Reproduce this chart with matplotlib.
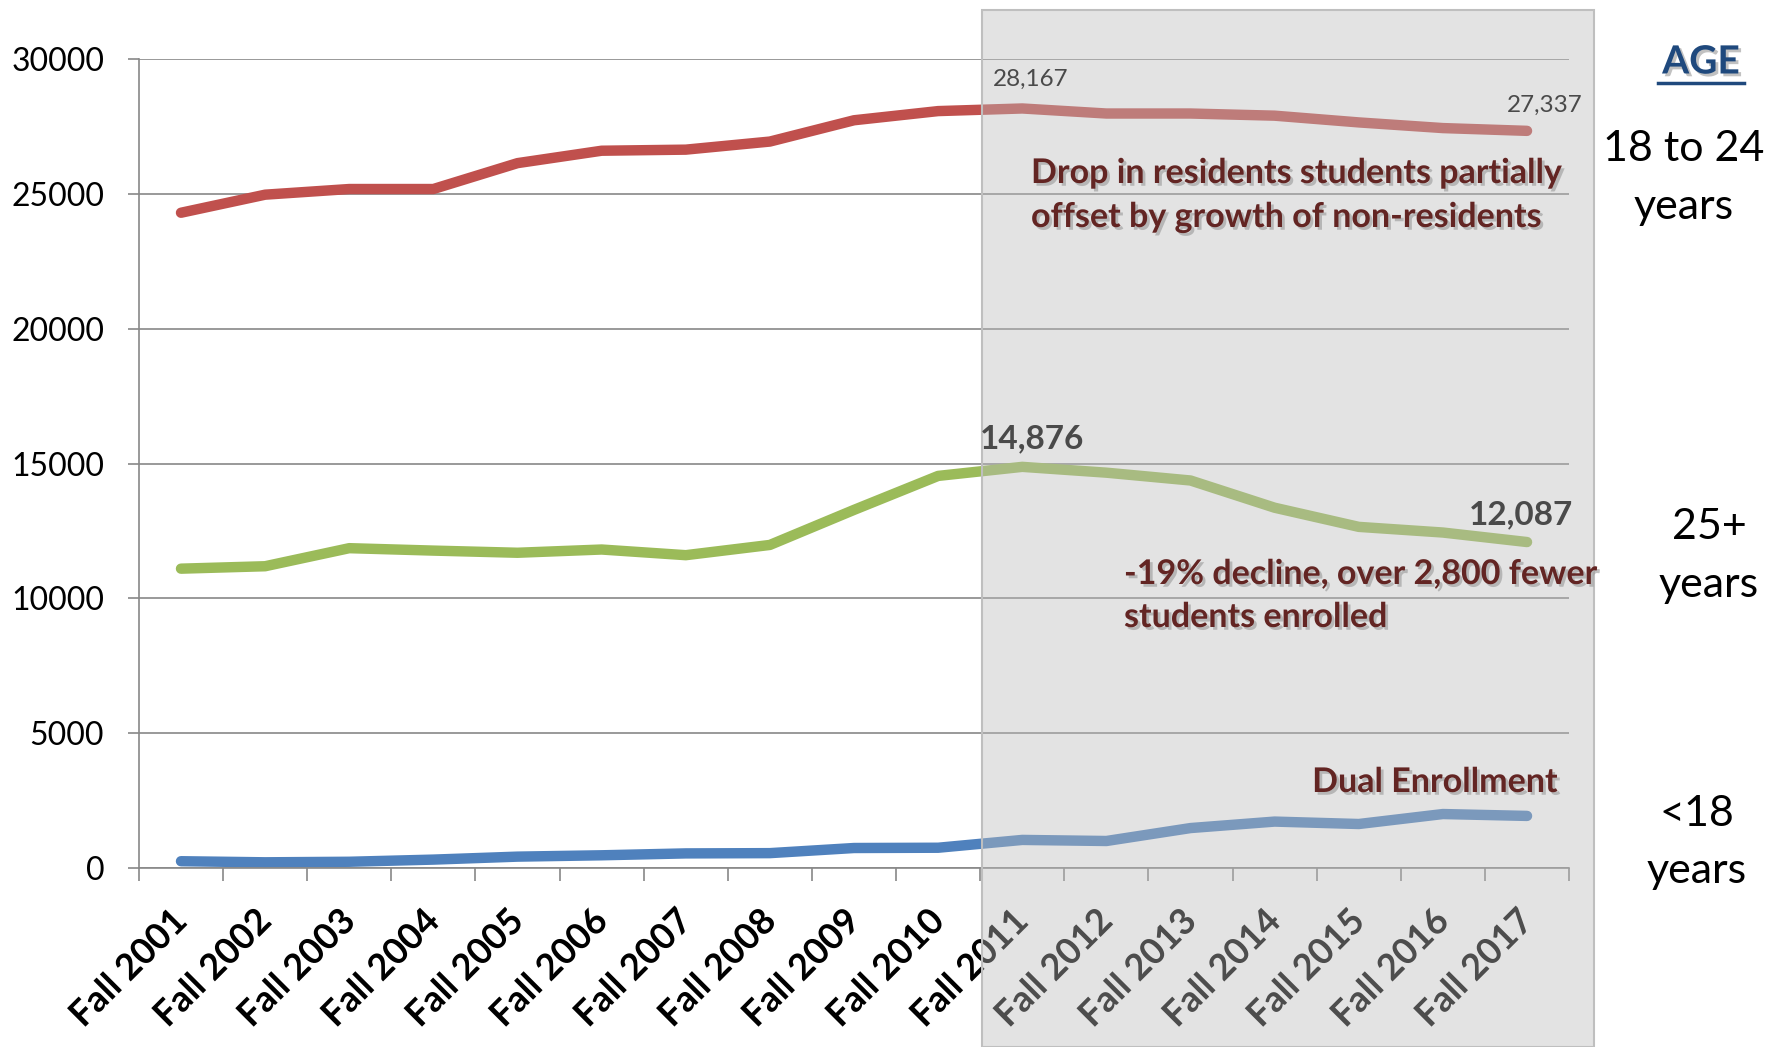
import numpy as np
import matplotlib.pyplot as plt
import matplotlib.patheffects as pe
from matplotlib.patches import Rectangle
from matplotlib.lines import Line2D

plt.rcParams['font.family'] = ['Lato', 'DejaVu Sans']

years = ["Fall %d" % y for y in range(2001, 2018)]
age_18_24 = [24300, 24970, 25180, 25180, 26140, 26600, 26640, 26940, 27730, 28070,
             28167, 27980, 27980, 27900, 27650, 27440, 27337]
age_25_plus = [11100, 11190, 11860, 11770, 11690, 11810, 11600, 11980, 13280, 14540,
               14876, 14660, 14370, 13360, 12650, 12440, 12087]
age_under_18 = [250, 210, 230, 310, 420, 470, 540, 550, 740, 750,
                1040, 1000, 1480, 1720, 1630, 2000, 1930]

fig = plt.figure(figsize=(17.72, 10.47), dpi=100)
ax = fig.add_axes([0.0784, 0.1710, 0.8071, 0.7726])

x = np.arange(len(years))
ax.plot(x, age_18_24, color='#C0504D', lw=7.5, solid_capstyle='round', zorder=2)
ax.plot(x, age_25_plus, color='#9BBB59', lw=7.5, solid_capstyle='round', zorder=2)
ax.plot(x, age_under_18, color='#4F81BD', lw=7.5, solid_capstyle='round', zorder=2)

ax.set_xlim(-0.5, len(years) - 0.5)
ax.set_ylim(0, 30000)
ax.set_yticks(range(0, 30001, 5000))
ax.yaxis.grid(True, color='#888888', lw=1.2)
ax.set_xticks(x)
ax.set_xticklabels(years, rotation=45, ha='right', rotation_mode='anchor',
                   fontsize=26, fontweight='bold')
# nudge the slanted labels a little to the left (drawn with an offset)
for lbl in ax.get_xticklabels():
    lbl.set_path_effects([pe.Stroke(offset=(-8, 0), linewidth=0)])
ax.set_xticks(np.arange(-0.5, len(years)), minor=True)
ax.tick_params(axis='x', which='major', length=0, pad=26)
ax.tick_params(axis='x', which='minor', length=9, color='#888888', width=1.2)
ax.tick_params(axis='y', length=8, color='#888888', width=1.2, labelsize=23, pad=17)
for s in ['top', 'right']:
    ax.spines[s].set_visible(False)
for s in ['left', 'bottom']:
    ax.spines[s].set_color('#888888')
    ax.spines[s].set_linewidth(1.2)

# shaded panel over the last years
shade = Rectangle((0.5542, 0.0), 0.3453, 0.9904, transform=fig.transFigure,
                  facecolor='#bcbcbc', alpha=0.41, edgecolor='none',
                  clip_on=False, zorder=3)
ax.add_artist(shade)
edge = Rectangle((0.5542, 0.0), 0.3453, 0.9904, transform=fig.transFigure,
                 facecolor='none', edgecolor='#bfbfbf', lw=1.5, clip_on=False, zorder=3)
ax.add_artist(edge)

# value labels
i11, i17 = years.index("Fall 2011"), years.index("Fall 2017")
ax.annotate(f"{age_18_24[i11]:,}", (i11, age_18_24[i11]), xytext=(6, 16),
            textcoords='offset points', ha='center', fontsize=17.5, color='#4a4a4a', zorder=4)
ax.annotate(f"{age_18_24[i17]:,}", (i17, age_18_24[i17]), xytext=(40, 14),
            textcoords='offset points', ha='right', fontsize=17.5, color='#4a4a4a', zorder=4)
ax.annotate(f"{age_25_plus[i11]:,}", (i11, age_25_plus[i11]), xytext=(7, 13),
            textcoords='offset points', ha='center', fontsize=24, fontweight='bold',
            color='#4a4a4a', zorder=4)
ax.annotate(f"{age_25_plus[i17]:,}", (i17, age_25_plus[i17]), xytext=(33, 13),
            textcoords='offset points', ha='right', fontsize=24, fontweight='bold',
            color='#4a4a4a', zorder=4)

shadow = [pe.SimplePatchShadow(offset=(2, -2), shadow_rgbFace='#999999', alpha=0.6), pe.Normal()]
dark_red = '#632523'
fs_note = 24.5
fig.text(1031 / 1772, 1 - 173 / 1047, "Drop in residents students partially",
         fontsize=fs_note, fontweight='bold', color=dark_red, va='center', path_effects=shadow)
fig.text(1031 / 1772, 1 - 217 / 1047, "offset by growth of non-residents",
         fontsize=fs_note, fontweight='bold', color=dark_red, va='center', path_effects=shadow)
fig.text(1124 / 1772, 1 - 574 / 1047, "-19% decline, over 2,800 fewer",
         fontsize=fs_note, fontweight='bold', color=dark_red, va='center', path_effects=shadow)
fig.text(1124 / 1772, 1 - 617 / 1047, "students enrolled",
         fontsize=fs_note, fontweight='bold', color=dark_red, va='center', path_effects=shadow)
fig.text(1558 / 1772, 1 - 782 / 1047, "Dual Enrollment",
         fontsize=fs_note, fontweight='bold', color=dark_red, va='center', ha='right',
         path_effects=shadow)

# age group labels on the right
fig.text(1701 / 1772, 1 - 62 / 1047, "AGE", fontsize=28, fontweight='bold',
         color='#1F497D', ha='center', va='center', path_effects=shadow)
fig.add_artist(Line2D([1658 / 1772, 1744 / 1772], [1 - 83 / 1047, 1 - 83 / 1047],
                      transform=fig.transFigure, color='#1F497D', lw=2.5))
for label, xc, ys in [("18 to 24", 1684, 149), ("years", 1684, 207),
                      ("25+", 1709, 527), ("years", 1709, 585),
                      ("<18", 1697, 814), ("years", 1697, 871)]:
    fig.text(xc / 1772, 1 - ys / 1047, label, fontsize=31, ha='center', va='center')

fig.savefig('out.png', dpi=100)
